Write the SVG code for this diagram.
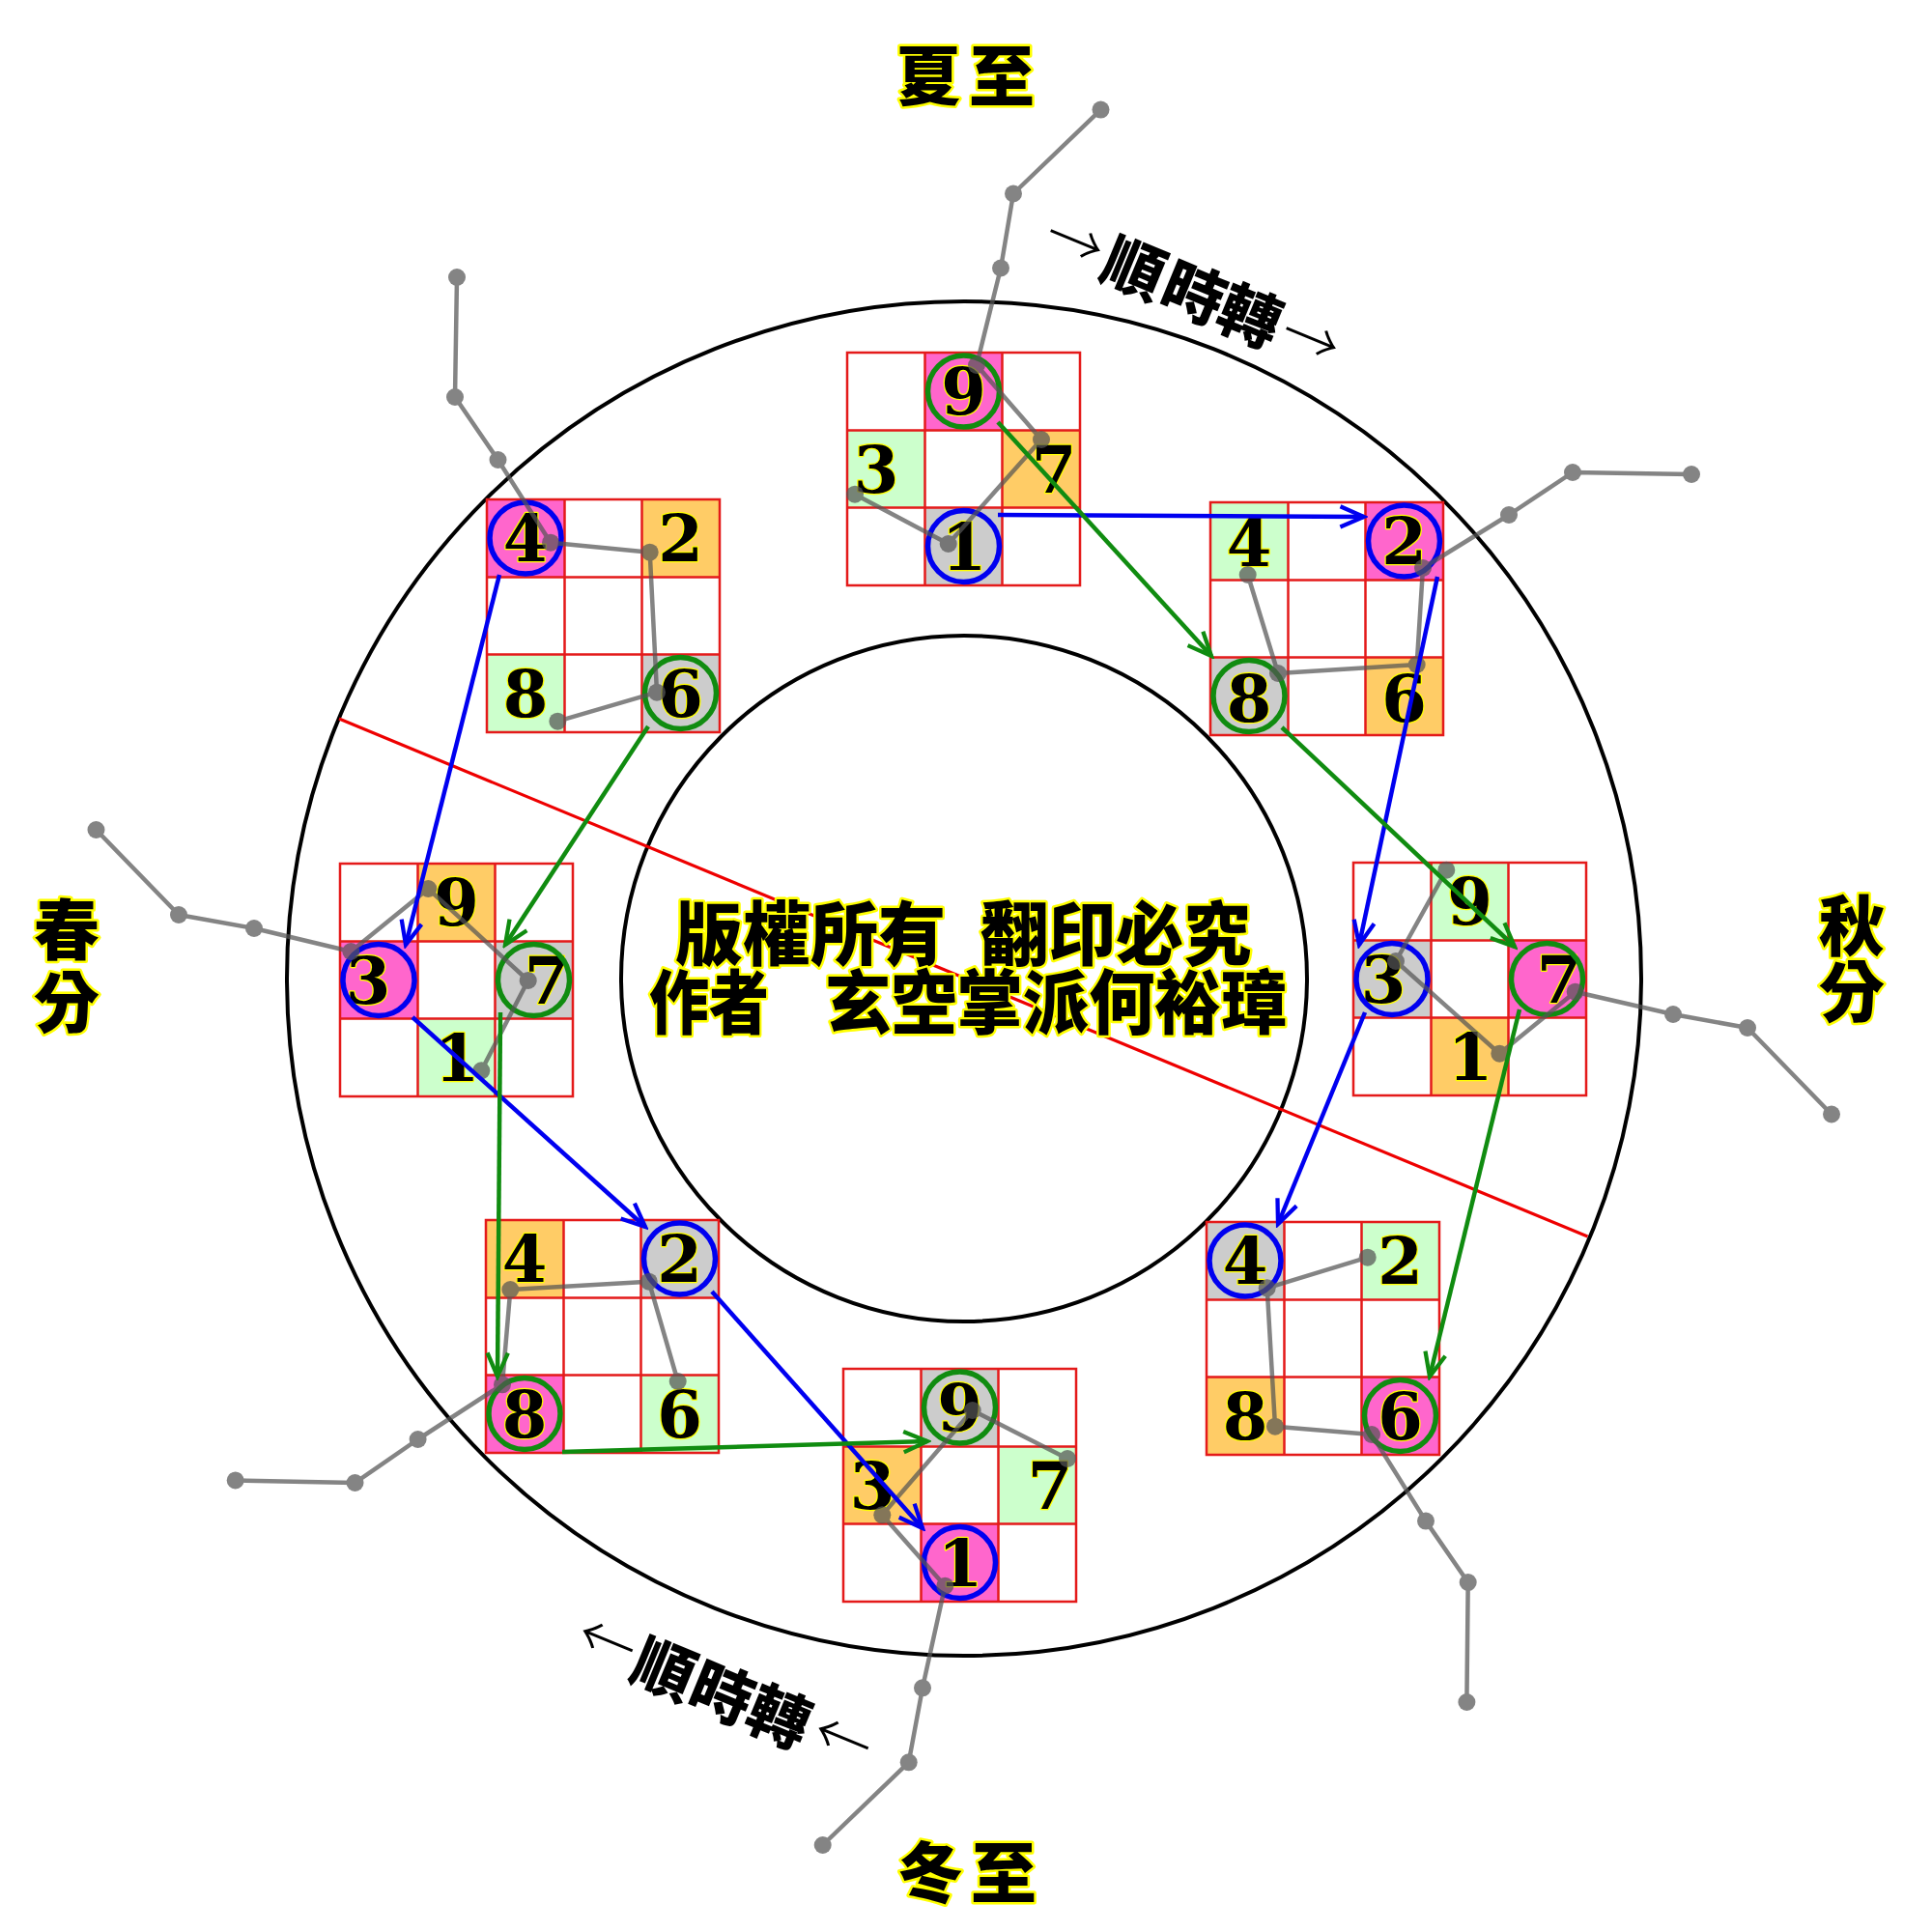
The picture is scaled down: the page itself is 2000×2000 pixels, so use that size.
<svg xmlns="http://www.w3.org/2000/svg" xmlns:xlink="http://www.w3.org/1999/xlink" width="2000" height="2000" viewBox="0 0 2000 2000">
<style>
.pk{fill:#ff66cc}.lg{fill:#ccffcc}.or{fill:#ffcc66}.gy{fill:#cccccc}
.d{font-family:"DejaVu Serif","Liberation Serif",serif;font-weight:bold;font-size:67px;text-anchor:middle;fill:#000;stroke:#ffff00;stroke-width:2.5px;paint-order:stroke;stroke-linejoin:round}
.cb{fill:none;stroke:#0000f0;stroke-width:5.5}
.cg{fill:none;stroke:#108c10;stroke-width:5.5}
.cj{font-family:"Noto Sans CJK TC","Noto Sans CJK SC",sans-serif;font-weight:900;fill:#000}
.yo{stroke:#ffff00;stroke-width:5px;paint-order:stroke;stroke-linejoin:round}
.arr{font-family:"Noto Sans CJK TC","Noto Sans CJK SC",sans-serif;font-weight:300;font-size:60px}
</style>
<defs>
<path id="grid" d="M0,0H241V241H0Z M80.5,0V241 M160.5,0V241 M0,80.5H241 M0,160.5H241" fill="none" stroke="#e41a1a" stroke-width="2.5"/>
<marker id="ab" markerUnits="userSpaceOnUse" markerWidth="32" markerHeight="32" viewBox="-26 -14 30 28" refX="0" refY="0" orient="auto"><path d="M-23,-10 L0,0 L-23,10" fill="none" stroke="#0000f0" stroke-width="4"/></marker>
<marker id="ag" markerUnits="userSpaceOnUse" markerWidth="32" markerHeight="32" viewBox="-26 -14 30 28" refX="0" refY="0" orient="auto"><path d="M-23,-10 L0,0 L-23,10" fill="none" stroke="#108c10" stroke-width="4"/></marker>
</defs>
<rect width="2000" height="2000" fill="#fff"/>
<g id="rings" fill="none" stroke="#000" stroke-width="4">
<circle cx="998" cy="1013" r="701"/>
<circle cx="998" cy="1013" r="355"/>
</g>
<line id="divider" x1="351" y1="744" x2="1643.5" y2="1280" stroke="#ee0000" stroke-width="3.2"/>

<g id="n-top" transform="translate(877,365)">
<rect class="pk" x="80.5" y="0" width="80" height="80.5"/><rect class="lg" x="0" y="80.5" width="80.5" height="80"/><rect class="or" x="160.5" y="80.5" width="80.5" height="80"/><rect class="gy" x="80.5" y="160.5" width="80" height="80.5"/>
<use xlink:href="#grid"/>
<text class="d" x="120.5" y="64">9</text><text class="d" x="30" y="145">3</text><text class="d" x="214" y="145">7</text><text class="d" x="121" y="225">1</text>
<circle class="cg" cx="120.5" cy="40" r="37"/><circle class="cb" cx="120.5" cy="200.5" r="37"/>
</g>
<g id="n-topright" transform="translate(1253,520)">
<rect class="lg" x="0" y="0" width="80.5" height="80.5"/><rect class="pk" x="160.5" y="0" width="80.5" height="80.5"/><rect class="gy" x="0" y="160.5" width="80.5" height="80.5"/><rect class="or" x="160.5" y="160.5" width="80.5" height="80.5"/>
<use xlink:href="#grid"/>
<text class="d" x="40" y="66">4</text><text class="d" x="200.5" y="64">2</text><text class="d" x="40" y="227">8</text><text class="d" x="200.5" y="227">6</text>
<circle class="cb" cx="200.5" cy="40" r="37"/><circle class="cg" cx="40" cy="200.5" r="37"/>
</g>
<g id="n-right" transform="translate(1401,893)">
<rect class="lg" x="80.5" y="0" width="80" height="80.5"/><rect class="gy" x="0" y="80.5" width="80.5" height="80"/><rect class="pk" x="160.5" y="80.5" width="80.5" height="80"/><rect class="or" x="80.5" y="160.5" width="80" height="80.5"/>
<use xlink:href="#grid"/>
<text class="d" x="120.5" y="64">9</text><text class="d" x="31" y="145">3</text><text class="d" x="213" y="145">7</text><text class="d" x="121" y="225">1</text>
<circle class="cb" cx="40" cy="120.5" r="37"/><circle class="cg" cx="200.5" cy="120.5" r="37"/>
</g>
<g id="n-bottomright" transform="translate(1249,1265)">
<rect class="gy" x="0" y="0" width="80.5" height="80.5"/><rect class="lg" x="160.5" y="0" width="80.5" height="80.5"/><rect class="or" x="0" y="160.5" width="80.5" height="80.5"/><rect class="pk" x="160.5" y="160.5" width="80.5" height="80.5"/>
<use xlink:href="#grid"/>
<text class="d" x="40" y="64">4</text><text class="d" x="200.5" y="64">2</text><text class="d" x="40" y="225">8</text><text class="d" x="200.5" y="225">6</text>
<circle class="cb" cx="40" cy="40" r="37"/><circle class="cg" cx="200.5" cy="200.5" r="37"/>
</g>
<g id="n-bottom" transform="translate(873,1417)">
<rect class="gy" x="80.5" y="0" width="80" height="80.5"/><rect class="or" x="0" y="80.5" width="80.5" height="80"/><rect class="lg" x="160.5" y="80.5" width="80.5" height="80"/><rect class="pk" x="80.5" y="160.5" width="80" height="80.5"/>
<use xlink:href="#grid"/>
<text class="d" x="120.5" y="64">9</text><text class="d" x="30" y="145">3</text><text class="d" x="214" y="145">7</text><text class="d" x="121" y="225">1</text>
<circle class="cg" cx="120.5" cy="40" r="37"/><circle class="cb" cx="120.5" cy="200.5" r="37"/>
</g>
<g id="n-bottomleft" transform="translate(503,1263)">
<rect class="or" x="0" y="0" width="80.5" height="80.5"/><rect class="gy" x="160.5" y="0" width="80.5" height="80.5"/><rect class="pk" x="0" y="160.5" width="80.5" height="80.5"/><rect class="lg" x="160.5" y="160.5" width="80.5" height="80.5"/>
<use xlink:href="#grid"/>
<text class="d" x="40" y="64">4</text><text class="d" x="200.5" y="64">2</text><text class="d" x="40" y="225">8</text><text class="d" x="200.5" y="225">6</text>
<circle class="cb" cx="200.5" cy="40" r="37"/><circle class="cg" cx="40" cy="200.5" r="37"/>
</g>
<g id="n-left" transform="translate(352,894)">
<rect class="or" x="80.5" y="0" width="80" height="80.5"/><rect class="pk" x="0" y="80.5" width="80.5" height="80"/><rect class="gy" x="160.5" y="80.5" width="80.5" height="80"/><rect class="lg" x="80.5" y="160.5" width="80" height="80.5"/>
<use xlink:href="#grid"/>
<text class="d" x="120.5" y="64">9</text><text class="d" x="29" y="145">3</text><text class="d" x="214" y="145">7</text><text class="d" x="121" y="225">1</text>
<circle class="cb" cx="40" cy="120.5" r="37"/><circle class="cg" cx="200.5" cy="120.5" r="37"/>
</g>
<g id="n-topleft" transform="translate(504,517)">
<rect class="pk" x="0" y="0" width="80.5" height="80.5"/><rect class="or" x="160.5" y="0" width="80.5" height="80.5"/><rect class="lg" x="0" y="160.5" width="80.5" height="80.5"/><rect class="gy" x="160.5" y="160.5" width="80.5" height="80.5"/>
<use xlink:href="#grid"/>
<text class="d" x="40" y="64">4</text><text class="d" x="200.5" y="64">2</text><text class="d" x="40" y="225">8</text><text class="d" x="200.5" y="225">6</text>
<circle class="cb" cx="40" cy="40" r="37"/><circle class="cg" cx="200.5" cy="200.5" r="37"/>
</g>

<g id="dippers" opacity="0.72" fill="#555" stroke="#555" stroke-width="4.5" stroke-linejoin="round">
<polyline fill="none" points="1139.5,113.6 1049,200.5 1036,277.5 1011,378 1078,455 981.7,563 885,511.7"/>
<polyline fill="none" points="1751,491 1628,489 1562,533 1473,588 1466.7,688 1323,697 1291.7,595"/>
<polyline fill="none" points="1497.3,900.7 1445,995 1552.3,1090.7 1630.7,1026.7 1732,1050 1809,1064 1896,1153.5"/>
<polyline fill="none" points="1415.7,1301.7 1311.7,1333.3 1320,1476.7 1420,1485 1476,1574.6 1519.7,1638 1518.4,1762"/>
<polyline fill="none" points="1105,1510 1006.7,1460 913.3,1568.3 978.3,1641.7 955,1747.3 940.7,1824.3 851.7,1910"/>
<polyline fill="none" points="701.7,1430 671.7,1326.7 528.3,1335 520,1433.3 432.6,1490 367.5,1535 243.7,1532.5"/>
<polyline fill="none" points="498.3,1108.3 546.7,1015 443.3,920 363.3,985 263,961 185,947 99.5,859"/>
<polyline fill="none" points="577.3,746.7 680,716.7 672.7,571.7 570,561.7 515.5,476 471,411 473,287"/>
<g stroke="none">
<circle cx="1139.5" cy="113.6" r="9"/><circle cx="1049" cy="200.5" r="9"/><circle cx="1036" cy="277.5" r="9"/><circle cx="1011" cy="378" r="9"/><circle cx="1078" cy="455" r="9"/><circle cx="981.7" cy="563" r="9"/><circle cx="885" cy="511.7" r="9"/>
<circle cx="1751" cy="491" r="9"/><circle cx="1628" cy="489" r="9"/><circle cx="1562" cy="533" r="9"/><circle cx="1473" cy="588" r="9"/><circle cx="1466.7" cy="688" r="9"/><circle cx="1323" cy="697" r="9"/><circle cx="1291.7" cy="595" r="9"/>
<circle cx="1497.3" cy="900.7" r="9"/><circle cx="1445" cy="995" r="9"/><circle cx="1552.3" cy="1090.7" r="9"/><circle cx="1630.7" cy="1026.7" r="9"/><circle cx="1732" cy="1050" r="9"/><circle cx="1809" cy="1064" r="9"/><circle cx="1896" cy="1153.5" r="9"/>
<circle cx="1415.7" cy="1301.7" r="9"/><circle cx="1311.7" cy="1333.3" r="9"/><circle cx="1320" cy="1476.7" r="9"/><circle cx="1420" cy="1485" r="9"/><circle cx="1476" cy="1574.6" r="9"/><circle cx="1519.7" cy="1638" r="9"/><circle cx="1518.4" cy="1762" r="9"/>
<circle cx="1105" cy="1510" r="9"/><circle cx="1006.7" cy="1460" r="9"/><circle cx="913.3" cy="1568.3" r="9"/><circle cx="978.3" cy="1641.7" r="9"/><circle cx="955" cy="1747.3" r="9"/><circle cx="940.7" cy="1824.3" r="9"/><circle cx="851.7" cy="1910" r="9"/>
<circle cx="701.7" cy="1430" r="9"/><circle cx="671.7" cy="1326.7" r="9"/><circle cx="528.3" cy="1335" r="9"/><circle cx="520" cy="1433.3" r="9"/><circle cx="432.6" cy="1490" r="9"/><circle cx="367.5" cy="1535" r="9"/><circle cx="243.7" cy="1532.5" r="9"/>
<circle cx="498.3" cy="1108.3" r="9"/><circle cx="546.7" cy="1015" r="9"/><circle cx="443.3" cy="920" r="9"/><circle cx="363.3" cy="985" r="9"/><circle cx="263" cy="961" r="9"/><circle cx="185" cy="947" r="9"/><circle cx="99.5" cy="859" r="9"/>
<circle cx="577.3" cy="746.7" r="9"/><circle cx="680" cy="716.7" r="9"/><circle cx="672.7" cy="571.7" r="9"/><circle cx="570" cy="561.7" r="9"/><circle cx="515.5" cy="476" r="9"/><circle cx="471" cy="411" r="9"/><circle cx="473" cy="287" r="9"/>
</g>
</g>

<g id="connectors" fill="none" stroke-width="4.5">
<g stroke="#0000f0" marker-end="url(#ab)">
<line x1="1033" y1="533" x2="1412" y2="535"/>
<line x1="1488" y1="597" x2="1407" y2="978"/>
<line x1="1413" y1="1048" x2="1323" y2="1267"/>
<line x1="517" y1="595" x2="420" y2="978"/>
<line x1="427" y1="1053" x2="668" y2="1270"/>
<line x1="737" y1="1337" x2="955" y2="1582"/>
</g>
<g stroke="#108c10" marker-end="url(#ag)">
<line x1="1033" y1="437" x2="1254" y2="679"/>
<line x1="1327" y1="753" x2="1568" y2="980"/>
<line x1="1573" y1="1045" x2="1480" y2="1425"/>
<line x1="671" y1="752" x2="523" y2="978"/>
<line x1="518" y1="1048" x2="515" y2="1425"/>
<line x1="582" y1="1503" x2="960" y2="1492"/>
</g>
</g>

<g id="labels">
<text class="cj yo" x="1003" y="104" font-size="68" text-anchor="middle" letter-spacing="8">夏至</text>
<text class="cj yo" x="1005" y="1964" font-size="68" text-anchor="middle" letter-spacing="8">冬至</text>
<text class="cj yo" font-size="68" text-anchor="middle"><tspan x="69" y="988">春</tspan><tspan x="69" y="1063">分</tspan></text>
<text class="cj yo" font-size="68" text-anchor="middle"><tspan x="1917" y="984">秋</tspan><tspan x="1917" y="1052">分</tspan></text>
<g transform="translate(1236,303) rotate(22.5)">
<text class="cj" font-size="64" text-anchor="middle" y="24"><tspan class="arr" x="-134" y="20">→</tspan><tspan x="-67" y="24">順</tspan><tspan x="0" y="24">時</tspan><tspan x="63" y="24">轉</tspan><tspan class="arr" x="130" y="20">→</tspan></text>
</g>
<g transform="translate(747.5,1752.5) rotate(22.5)">
<text class="cj" font-size="64" text-anchor="middle" y="24"><tspan class="arr" x="-130" y="18">←</tspan><tspan x="-65" y="24">順</tspan><tspan x="0" y="24">時</tspan><tspan x="64" y="24">轉</tspan><tspan class="arr" x="134" y="18">←</tspan></text>
</g>
<g font-size="72">
<text class="cj yo" x="699" y="993" textLength="280" lengthAdjust="spacingAndGlyphs">版權所有</text>
<text class="cj yo" x="1015" y="993" textLength="280" lengthAdjust="spacingAndGlyphs">翻印必究</text>
<text class="cj yo" x="672" y="1064" textLength="124" lengthAdjust="spacingAndGlyphs">作者</text>
<text class="cj yo" x="854" y="1064" textLength="478" lengthAdjust="spacingAndGlyphs">玄空掌派何裕璋</text>
</g>
</g>
</svg>
